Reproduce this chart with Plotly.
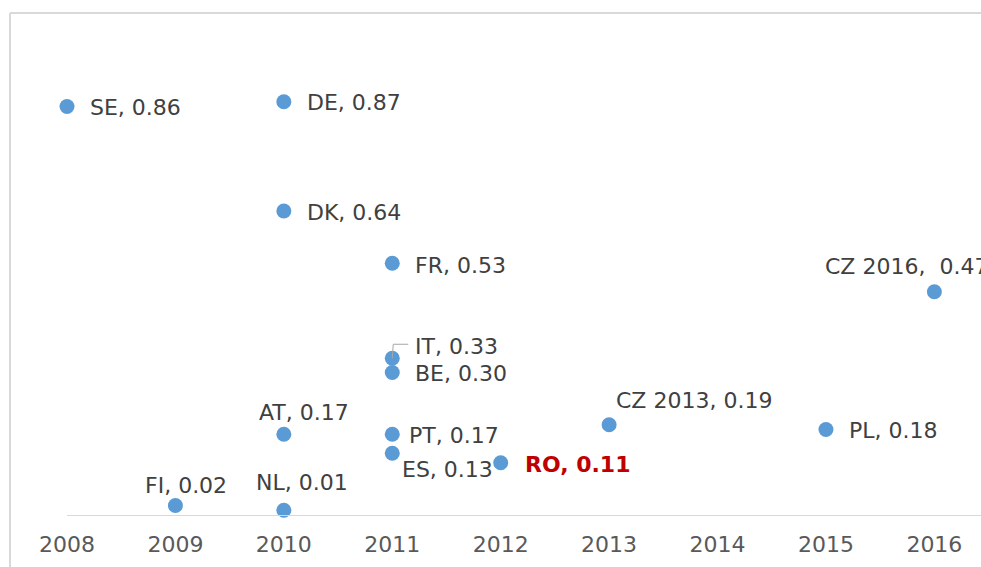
import plotly.graph_objects as go

countries = ["SE", "DE", "DK", "FR", "IT", "BE", "AT", "PT", "ES", "RO", "CZ 2013", "PL", "CZ 2016", "FI", "NL"]
years = [2008, 2010, 2010, 2011, 2011, 2011, 2010, 2011, 2011, 2012, 2013, 2015, 2016, 2009, 2010]
values = [0.86, 0.87, 0.64, 0.53, 0.33, 0.30, 0.17, 0.17, 0.13, 0.11, 0.19, 0.18, 0.47, 0.02, 0.01]
label_texts = ["SE, 0.86", "DE, 0.87", "DK, 0.64", "FR, 0.53", "IT, 0.33", "BE, 0.30", "AT, 0.17",
               "PT, 0.17", "ES, 0.13", "RO, 0.11", "CZ 2013, 0.19", "PL, 0.18", "CZ 2016,  0.47",
               "FI, 0.02", "NL, 0.01"]
tick_years = [2008, 2009, 2010, 2011, 2012, 2013, 2014, 2015, 2016]

# label offsets in pixels (xshift, yshift, xanchor)
offsets = {
    "SE": (21, -1, "left"), "DE": (21, -1, "left"), "DK": (21, -1, "left"), "FR": (21, -2, "left"),
    "IT": (21, 12, "left"), "BE": (21, -1, "left"), "AT": (20, 22, "center"), "PT": (15, -1, "left"),
    "ES": (8, -16, "left"), "RO": (22, -2, "left"), "CZ 2013": (5, 24, "left"), "PL": (21, -1, "left"),
    "CZ 2016": (-111, 25, "left"), "FI": (11, 20, "center"), "NL": (18, 28, "center"),
}

FONT = "DejaVu Sans"
fig = go.Figure()
fig.add_trace(go.Scatter(
    x=years, y=values, mode="markers",
    marker=dict(size=15, color="#5b9bd5"),
    cliponaxis=False, hoverinfo="skip", showlegend=False,
))

annotations = []
for c, xv, yv, t in zip(countries, years, values, label_texts):
    dx, dy, anchor = offsets[c]
    is_ro = c == "RO"
    annotations.append(dict(
        x=xv, y=yv, xref="x", yref="y", text=f"<b>{t}</b>" if is_ro else t,
        showarrow=False, xanchor=anchor, yanchor="middle", xshift=dx, yshift=dy,
        font=dict(family=FONT, size=22, color="#c00000" if is_ro else "#404040"),
    ))

shapes = [
    # leader line for IT label
    dict(type="path", xref="x", yref="y", xsizemode="pixel", ysizemode="pixel",
         xanchor=years[4], yanchor=values[4], path="M 0,0 L 1,14 L 16,14",
         line=dict(color="#a6a6a6", width=1)),
    # chart frame (left and top)
    dict(type="line", xref="paper", yref="paper", x0=-57/914, x1=-57/914, y0=1, y1=-52/502 - 0.01,
         line=dict(color="#d9d9d9", width=2)),
    dict(type="line", xref="paper", yref="paper", x0=-57/914, x1=1.01, y0=1, y1=1,
         line=dict(color="#d9d9d9", width=2)),
]

fig.update_layout(
    width=981, height=567,
    margin=dict(l=67, r=0, t=13, b=52),
    paper_bgcolor="white", plot_bgcolor="white",
    annotations=annotations, shapes=shapes,
    xaxis=dict(range=[2008, 2016.43], tickvals=tick_years, ticktext=[str(y) for y in tick_years],
               showgrid=False, zeroline=False, showline=True, linecolor="#d9d9d9", linewidth=1,
               ticks="", ticklabelstandoff=10,
               tickfont=dict(family=FONT, size=22, color="#595959")),
    yaxis=dict(range=[0, 502/475], visible=False, showgrid=False, zeroline=False),
)

fig.write_html("out.html", config={"displayModeBar": False},
               post_script="document.body.style.margin='0';document.body.style.overflow='hidden';")
